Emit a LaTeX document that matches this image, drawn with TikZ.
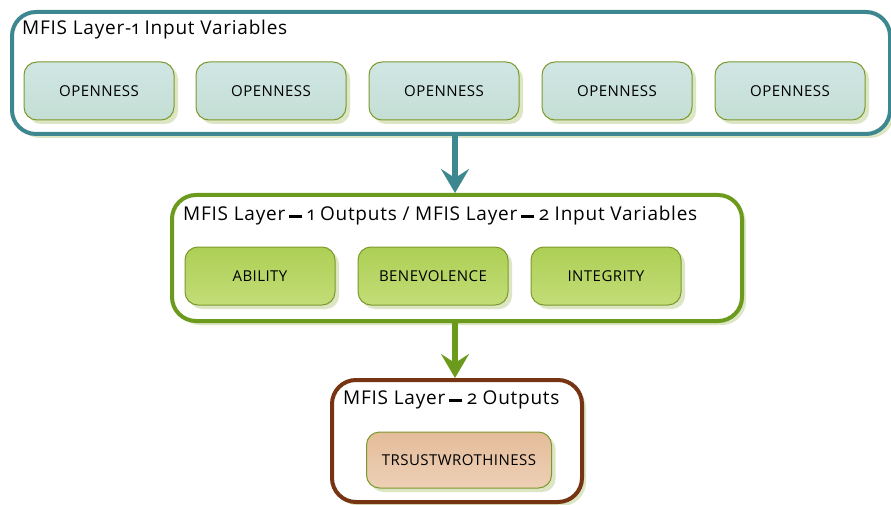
\documentclass[tikz,border=0pt]{standalone}
\usepackage{fontspec}
\setmainfont{Open Sans}[Numbers=OldStyle]
\newfontfamily\headfont{Open Sans}[Numbers=OldStyle, LetterSpace=4]
\newfontfamily\labelfont{Open Sans}[LetterSpace=3]
\usetikzlibrary{arrows.meta,shadows}

\definecolor{tealline}{HTML}{3D8790}
\definecolor{greenline}{HTML}{6B9A1C}
\definecolor{brownline}{HTML}{763413}
\definecolor{shadowgreen}{HTML}{DCE6C4}
\definecolor{olive}{HTML}{7C9A2C}
\definecolor{tealA}{HTML}{D0E6E4}
\definecolor{tealB}{HTML}{C4DED4}
\definecolor{greenA}{HTML}{ADCF55}
\definecolor{greenB}{HTML}{C2DD77}
\definecolor{peachA}{HTML}{E4BC9A}
\definecolor{peachB}{HTML}{EDD0B6}

% heavy dash, with spaces, used in the layer titles
\newcommand{\layerdash}{\hspace{4pt}\rule[2pt]{13pt}{3pt}\hspace{5pt}}

\tikzset{
  container/.style={draw, line width=4pt, rounded corners=24pt, fill=white,
    inner sep=0pt, anchor=north west,
    drop shadow={shadow xshift=4pt, shadow yshift=-4pt, fill=shadowgreen, opacity=1}},
  title/.style={anchor=base west, inner sep=0pt, font=\headfont\fontsize{19}{22}\selectfont},
  item/.style={draw=olive, line width=1pt, rounded corners=13pt, inner sep=0pt,
    minimum width=150pt, minimum height=58pt, font=\labelfont\fontsize{15}{18}\selectfont,
    drop shadow={shadow xshift=4pt, shadow yshift=-4pt, fill=shadowgreen, opacity=1}},
  inputbox/.style={item, top color=tealA, bottom color=tealB},
  midbox/.style={item, top color=greenA, bottom color=greenB},
  outbox/.style={item, minimum width=185pt, minimum height=56pt,
    top color=peachA, bottom color=peachB},
  flow/.style={line width=6pt, line cap=round,
    -{Stealth[length=24pt, width=28pt, inset=9pt, line cap=butt]}}
}

\begin{document}
\begin{tikzpicture}[x=1pt, y=-1pt]
\useasboundingbox (0,0) rectangle (891,505);

% layer-1 inputs
\node[container, draw=tealline, minimum width=878pt, minimum height=122pt] (top) at (10,10) {};
\node[title] (toptitle) at (22,35) {MFIS Layer-1 Input Variables};
\foreach \i/\x in {1/99, 2/271, 3/444, 4/617, 5/790}
  \node[inputbox] (in\i) at (\x,91) {OPENNESS};

% layer-1 outputs / layer-2 inputs
\node[container, draw=greenline, minimum width=570pt, minimum height=126pt] (mid) at (170,193) {};
\node[title] (midtitle) at (183,220) {MFIS Layer\layerdash1 Outputs / MFIS Layer\layerdash2 Input Variables};
\node[midbox] (ability) at (260,276) {ABILITY};
\node[midbox] (benev) at (433,276) {BENEVOLENCE};
\node[midbox] (integ) at (606,276) {INTEGRITY};

% layer-2 outputs
\node[container, draw=brownline, minimum width=250pt, minimum height=122pt] (bot) at (330,378) {};
\node[title] (bottitle) at (343,404) {MFIS Layer\layerdash2 Outputs};
\node[outbox] (trust) at (459,460) {TRSUSTWROTHINESS};

% connectors
\draw[flow, tealline] (top.south -| 455,0) -- (mid.north -| 455,0);
\draw[flow, greenline] (mid.south -| 455,0) -- (bot.north -| 455,0);
\end{tikzpicture}
\end{document}
